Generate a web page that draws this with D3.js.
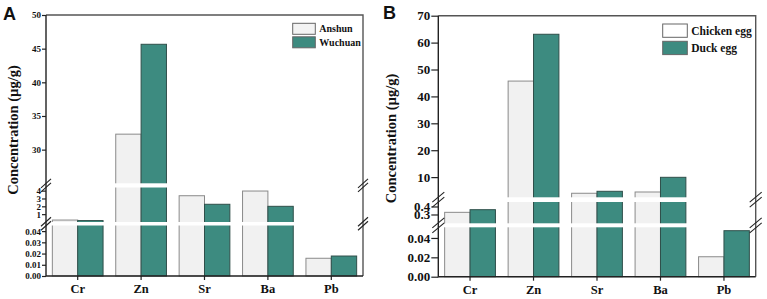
<!DOCTYPE html>
<meta charset="utf-8">

<!-- Load d3.js -->
<script src="https://d3js.org/d3.v7.min.js"></script>

<style>
  body { margin: 0; background: #fff; }
  text { font-family: "Liberation Serif", "Times New Roman", serif; font-weight: bold; fill: #111; }
</style>

<div id="chart"></div>

<script>

// elements on the x axis
var elements = ["Cr", "Zn", "Sr", "Ba", "Pb"];

// panel A : concentration (ug/g) by site
var anshun  = [0.25, 32.3, 3.35, 3.95, 0.0158];
var wuchuan = [0.18, 45.65, 2.26, 2.0, 0.0178];

// panel B : concentration (ug/g) by egg type
var chickenEgg = [0.327, 45.7, 4.0, 4.47, 0.0206];
var duckEgg    = [0.36, 63.1, 4.73, 9.93, 0.0475];

// tick values for each piece of the broken y axes
var ticksAUpper  = [30, 35, 40, 45, 50];
var ticksAMiddle = [1, 2, 3, 4];
var ticksALower  = [0, 0.01, 0.02, 0.03, 0.04];
var ticksBUpper  = [10, 20, 30, 40, 50, 60, 70];
var ticksBMiddle = [0.3, 0.4];
var ticksBLower  = [0, 0.02, 0.04];

var W = 767, H = 299;

var svg = d3.select("#chart")
  .append("svg")
    .attr("width", W)
    .attr("height", H);

var fillLight = "#f1f1f1", fillTeal = "#3d8b80";

function drawPanel(p) {
  var g = svg.append("g");

  // x: one band per element, one sub band per series
  var x = d3.scaleBand()
    .domain(elements)
    .range([p.left, p.right])
    .paddingInner(0.2)
    .paddingOuter(0.1);
  var xSub = d3.scaleBand()
    .domain([0, 1])
    .range([0, x.bandwidth()]);

  // broken y axis : three linear pieces
  var segs = p.segs.map(function(s) {
    return { scale: d3.scaleLinear().domain(s.domain).range(s.range), ticks: s.ticks, fmt: s.fmt, domain: s.domain };
  });
  function y(v) {
    for (var i = 0; i < segs.length; i++) {
      if (v <= segs[i].domain[1] || i == segs.length - 1) return segs[i].scale(Math.max(v, segs[i].domain[0]));
    }
  }

  // bars
  var series = [p.s1, p.s2];
  series.forEach(function(vals, k) {
    g.append("g")
      .selectAll("rect")
      .data(vals)
      .enter().append("rect")
        .attr("x", function(d, i) { return x(elements[i]) + xSub(k); })
        .attr("y", function(d) { return y(d); })
        .attr("width", xSub.bandwidth())
        .attr("height", function(d) { return p.bottom - y(d); })
        .attr("fill", k == 0 ? fillLight : fillTeal)
        .attr("stroke", k == 0 ? "#8a8a8a" : "#2f4f4a")
        .attr("stroke-width", 1);
  });

  // white gaps where the axis is broken
  p.gaps.forEach(function(gp) {
    g.append("rect")
      .attr("x", p.left + 1)
      .attr("y", gp[0])
      .attr("width", p.right - p.left - 2)
      .attr("height", gp[1] - gp[0])
      .attr("fill", "#fff");
  });

  // frame
  g.append("path")
    .attr("d", "M" + p.left + "," + p.top + "H" + p.right + "V" + p.bottom)
    .attr("fill", "none")
    .attr("stroke", "#555")
    .attr("stroke-width", 1.4);
  g.append("path")
    .attr("d", "M" + p.left + "," + p.top + "V" + p.bottom + "H" + p.right)
    .attr("fill", "none")
    .attr("stroke", "#222")
    .attr("stroke-width", 1.4);

  // y ticks for every piece
  segs.forEach(function(s) {
    var axis = d3.axisLeft(s.scale)
      .tickValues(s.ticks)
      .tickSize(p.tickLen)
      .tickPadding(1)
      .tickFormat(d3.format(s.fmt));
    var ga = g.append("g")
      .attr("transform", "translate(" + p.left + ",0)")
      .call(axis);
    ga.select(".domain").remove();
    ga.selectAll("line").attr("stroke", "#222").attr("stroke-width", 1.2);
    ga.selectAll("text")
      .attr("font-family", null)
      .style("font-size", p.tickFont + "px");
  });

  // x ticks
  var gx = g.append("g")
    .attr("transform", "translate(0," + p.bottom + ")")
    .call(d3.axisBottom(x).tickSize(4).tickPadding(4));
  gx.select(".domain").remove();
  gx.selectAll("line").attr("stroke", "#222").attr("stroke-width", 1.2);
  gx.selectAll("text")
    .attr("font-family", null)
    .style("font-size", "12.5px");

  // break marks on both vertical axes
  p.gaps.forEach(function(gp) {
    var yc = (gp[0] + gp[1]) / 2;
    [p.left, p.right].forEach(function(ax) {
      [-p.brk.sep / 2, p.brk.sep / 2].forEach(function(dy) {
        g.append("line")
          .attr("x1", ax - p.brk.w).attr("y1", yc + dy + p.brk.h)
          .attr("x2", ax + p.brk.w).attr("y2", yc + dy - p.brk.h)
          .attr("stroke", "#222")
          .attr("stroke-width", 1.1);
      });
    });
  });

  // y title
  g.append("text")
    .attr("transform", "translate(" + p.titleX + "," + p.titleY + ") rotate(-90)")
    .attr("text-anchor", "middle")
    .attr("dy", "0.35em")
    .style("font-size", "14.5px")
    .text("Concentration (\u00b5g/g)");

  // panel letter
  g.append("text")
    .attr("x", p.letterX)
    .attr("y", p.letterY)
    .style("font-family", "'Liberation Sans', Arial, sans-serif")
    .style("font-size", "18px")
    .text(p.letter);

  // legend
  p.legend.forEach(function(l, k) {
    g.append("rect")
      .attr("x", p.legX).attr("y", l.y)
      .attr("width", p.legW).attr("height", p.legH)
      .attr("fill", l.fill)
      .attr("stroke", "#666")
      .attr("stroke-width", 1);
    g.append("text")
      .attr("x", p.legX + p.legW + 4)
      .attr("y", l.y + p.legH / 2)
      .attr("dy", "0.35em")
      .style("font-size", p.legFont + "px")
      .text(l.name);
  });
}

drawPanel({
  left: 46, right: 363, top: 15, bottom: 276,
  s1: anshun, s2: wuchuan,
  segs: [
    { domain: [0, 0.045], range: [276, 225.5], ticks: ticksALower, fmt: ".2f" },
    { domain: [0, 4.4], range: [222, 187.5], ticks: ticksAMiddle, fmt: "d" },
    { domain: [25, 50], range: [183.3, 15], ticks: ticksAUpper, fmt: "d" }
  ],
  gaps: [[222, 225.5], [183.3, 187.5]],
  tickLen: 4, tickFont: 9,
  brk: { w: 5, h: 4.5, sep: 4 },
  titleX: 13, titleY: 130,
  letter: "A", letterX: 3, letterY: 20,
  legX: 292.7, legW: 22.6, legH: 11, legFont: 10,
  legend: [{ name: "Anshun", y: 23.3, fill: "#f3f3f3" }, { name: "Wuchuan", y: 36.8, fill: fillTeal }]
});

drawPanel({
  left: 438.3, right: 755.7, top: 15.7, bottom: 276.7,
  s1: chickenEgg, s2: duckEgg,
  segs: [
    { domain: [0, 0.051], range: [276.7, 227.3], ticks: ticksBLower, fmt: ".2f" },
    { domain: [0.19, 0.456], range: [223.3, 202], ticks: ticksBMiddle, fmt: ".1f" },
    { domain: [2.5, 70], range: [197.3, 15.7], ticks: ticksBUpper, fmt: "d" }
  ],
  gaps: [[223.3, 227.3], [197.3, 202]],
  tickLen: 7, tickFont: 13,
  brk: { w: 6, h: 5, sep: 5 },
  titleX: 391, titleY: 138.5,
  letter: "B", letterX: 383, letterY: 19,
  legX: 662.7, legW: 24.6, legH: 13.3, legFont: 11.5,
  legend: [{ name: "Chicken egg", y: 24, fill: "#fff" }, { name: "Duck egg", y: 41.3, fill: fillTeal }]
});

</script>
